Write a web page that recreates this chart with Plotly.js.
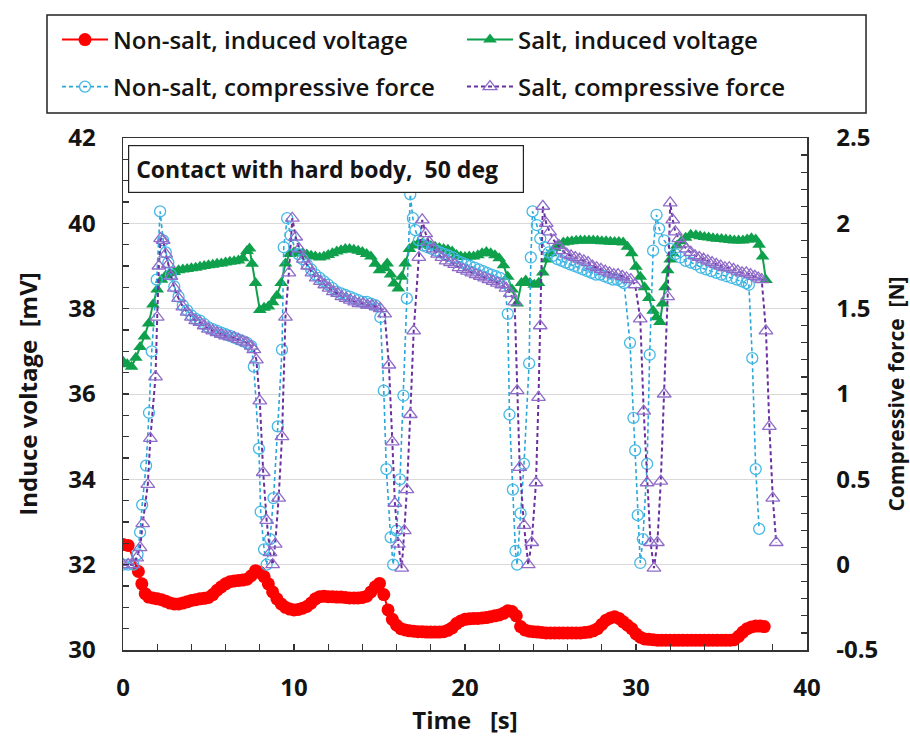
<!DOCTYPE html>
<html><head><meta charset="utf-8">
<script src="https://cdn.plot.ly/plotly-3.0.1.min.js"></script>
<style>html,body{margin:0;padding:0;background:#fff}#chart{width:910px;height:740px}</style>
</head><body><div id="chart"></div>
<script>
// ---- data ----
const redT = [0,0.3,0.9,1.1,1.3,1.5,1.75,2,
  2.25,2.5,2.75,3,3.25,3.5,3.75,4,
  4.25,4.5,4.75,5,5.25,5.5,5.75,6,
  6.25,6.5,6.75,7,7.25,7.5,7.75,8,
  8.25,8.5,8.75,9,9.25,9.5,9.75,10,
  10.25,10.5,10.75,11,11.25,11.5,11.75,12,
  12.25,12.5,12.75,13,13.25,13.5,13.75,14,
  14.25,14.5,14.75,15,15.25,15.5,15.75,16,
  16.25,16.5,16.75,17,17.25,17.5,17.75,18,
  18.25,18.5,18.75,19,19.25,19.5,19.75,20,
  20.25,20.5,20.75,21,21.25,21.5,21.75,22,
  22.25,22.5,22.75,23,23.25,23.5,23.75,24,
  24.25,24.5,24.75,25,25.25,25.5,25.75,26,
  26.25,26.5,26.75,27,27.25,27.5,27.75,28,
  28.25,28.5,28.75,29,29.25,29.5,29.75,30,
  30.25,30.5,30.75,31,31.25,31.5,31.75,32,
  32.25,32.5,32.75,33,33.25,33.5,33.75,34,
  34.25,34.5,34.75,35,35.25,35.5,35.75,36,
  36.25,36.5,36.75,37,37.25,37.5];
const redV = [32.47,32.45,31.84,31.55,31.32,31.24,31.22,31.2,
  31.18,31.14,31.1,31.08,31.08,31.1,31.13,31.16,
  31.18,31.2,31.21,31.23,31.3,31.4,31.48,31.55,
  31.6,31.62,31.63,31.64,31.66,31.74,31.86,31.82,
  31.72,31.55,31.36,31.2,31.08,31.0,30.96,30.94,
  30.95,30.98,31.02,31.1,31.2,31.25,31.26,31.25,
  31.25,31.24,31.24,31.23,31.22,31.22,31.22,31.23,
  31.26,31.36,31.48,31.56,31.3,30.94,30.72,30.58,
  30.5,30.47,30.45,30.44,30.43,30.43,30.42,30.42,
  30.42,30.42,30.43,30.46,30.52,30.62,30.68,30.72,
  30.73,30.74,30.74,30.75,30.76,30.78,30.8,30.82,
  30.86,30.92,30.9,30.8,30.55,30.47,30.44,30.43,
  30.42,30.41,30.4,30.4,30.4,30.4,30.4,30.4,
  30.4,30.4,30.4,30.41,30.42,30.45,30.5,30.6,
  30.7,30.75,30.78,30.74,30.66,30.58,30.5,30.38,
  30.3,30.26,30.25,30.24,30.23,30.23,30.23,30.23,
  30.23,30.23,30.23,30.23,30.23,30.23,30.23,30.23,
  30.23,30.23,30.23,30.23,30.23,30.23,30.24,30.32,
  30.42,30.5,30.54,30.56,30.56,30.55];

const greenT = [0,0.25,0.5,0.75,1,1.25,1.5,1.75,
  2,2.25,2.5,2.75,3,3.25,3.5,3.75,
  4,4.25,4.5,4.75,5,5.25,5.5,5.75,
  6,6.25,6.5,6.75,7,7.25,7.4,7.55,
  7.75,8,8.25,8.5,8.75,9,9.25,9.5,
  9.75,10,10.25,10.5,10.75,11,11.25,11.5,
  11.75,12,12.25,12.5,12.75,13,13.25,13.5,
  13.75,14,14.25,14.5,14.75,15,15.25,15.45,
  15.65,15.85,16.1,16.3,16.5,16.75,17,17.25,
  17.5,17.75,18,18.25,18.5,18.75,19,19.25,
  19.5,19.75,20,20.25,20.5,20.75,21,21.25,
  21.5,21.75,22,22.25,22.5,22.75,23.05,23.3,
  23.55,23.8,24.05,24.3,24.55,24.8,25,25.25,
  25.5,25.75,26,26.25,26.5,26.75,27,27.25,
  27.5,27.75,28,28.25,28.5,28.75,29,29.25,
  29.5,29.75,30,30.25,30.5,30.75,31,31.2,
  31.4,31.55,31.7,31.85,32,32.15,32.4,32.65,
  32.9,33.2,33.5,33.75,34,34.25,34.5,34.75,
  35,35.25,35.5,35.75,36,36.25,36.5,36.75,
  37,37.2,37.4,37.6];
const greenV = [36.76,36.7,36.64,36.85,37.1,37.35,37.65,38.1,
  38.45,38.68,38.78,38.83,38.86,38.9,38.92,38.93,
  38.95,38.96,38.98,39.0,39.02,39.03,39.05,39.06,
  39.08,39.1,39.11,39.13,39.18,39.35,39.41,39.05,
  38.6,37.97,38.02,38.05,38.15,38.3,38.6,39.06,
  39.28,39.32,39.3,39.3,39.27,39.24,39.22,39.2,
  39.22,39.26,39.3,39.34,39.37,39.4,39.4,39.38,
  39.36,39.33,39.28,39.22,39.05,38.9,38.95,39.06,
  38.8,38.59,38.47,38.75,39.06,39.4,39.48,39.52,
  39.53,39.5,39.47,39.45,39.42,39.4,39.38,39.34,
  39.26,39.22,39.21,39.22,39.22,39.25,39.3,39.33,
  39.3,39.25,39.18,39.02,38.75,38.45,38.12,38.6,
  38.66,38.6,38.56,38.6,38.85,39.15,39.3,39.42,
  39.5,39.55,39.57,39.58,39.59,39.6,39.6,39.6,
  39.6,39.59,39.58,39.58,39.57,39.56,39.56,39.55,
  39.45,39.3,38.98,38.75,38.5,38.25,37.95,37.8,
  37.69,38.12,38.5,38.9,39.15,39.3,39.48,39.58,
  39.66,39.73,39.72,39.7,39.68,39.67,39.65,39.64,
  39.63,39.62,39.61,39.6,39.6,39.6,39.62,39.65,
  39.62,39.5,39.22,38.67];

const cyanT = [0,0.3,0.6,0.85,1,1.12,1.35,1.52,
  1.68,1.97,2.17,2.35,2.5,2.65,2.8,3,
  3.25,3.5,3.75,4,4.25,4.5,4.75,5,
  5.25,5.5,5.75,6,6.25,6.5,6.75,7,
  7.25,7.5,7.65,7.95,8.05,8.25,8.4,8.6,
  8.8,9.05,9.3,9.4,9.6,9.8,10,10.25,
  10.5,10.75,11,11.25,11.5,11.75,12,12.25,
  12.5,12.75,13,13.25,13.5,13.75,14,14.25,
  14.5,14.75,15.05,15.25,15.4,15.65,15.8,16,
  16.2,16.4,16.6,16.8,16.95,17.1,17.3,17.55,
  17.8,18.05,18.3,18.55,18.8,19.05,19.3,19.55,
  19.8,20.05,20.3,20.55,20.8,21.05,21.3,21.55,
  21.8,22.05,22.3,22.5,22.6,22.8,22.95,23.05,
  23.25,23.45,23.75,23.85,23.95,24.2,24.4,24.65,
  24.9,25.15,25.4,25.65,25.9,26.15,26.4,26.65,
  26.9,27.15,27.4,27.65,27.9,28.15,28.4,28.65,
  28.9,29.15,29.3,29.65,29.85,29.95,30.1,30.25,
  30.4,30.65,30.8,31,31.2,31.35,31.65,32,
  32.3,32.6,32.9,33.2,33.5,33.8,34.1,34.4,
  34.7,35,35.3,35.6,35.9,36.2,36.45,36.6,
  36.8,37,37.2];
const cyanF = [0,0,0,0.06,0.19,0.35,0.58,0.89,
  1.25,1.67,2.07,1.9,1.83,1.77,1.7,1.63,
  1.57,1.52,1.49,1.46,1.44,1.43,1.41,1.39,
  1.38,1.37,1.36,1.35,1.34,1.33,1.32,1.31,
  1.3,1.28,1.16,0.68,0.31,0.09,0,0.15,
  0.39,0.81,1.26,1.86,2.03,1.93,1.87,1.82,
  1.79,1.76,1.73,1.7,1.68,1.66,1.64,1.62,
  1.6,1.59,1.58,1.57,1.56,1.55,1.54,1.54,
  1.53,1.52,1.45,1.02,0.56,0.16,0,0.2,
  0.5,0.99,1.56,2.17,2.03,1.96,1.9,1.87,
  1.86,1.85,1.84,1.83,1.82,1.81,1.8,1.78,
  1.77,1.76,1.75,1.74,1.73,1.72,1.71,1.7,
  1.69,1.68,1.65,1.47,0.88,0.44,0.08,0,
  0.3,0.59,1.18,1.8,2.07,1.99,1.91,1.86,
  1.83,1.81,1.79,1.78,1.77,1.76,1.75,1.74,
  1.73,1.72,1.71,1.7,1.7,1.69,1.68,1.67,
  1.67,1.66,1.65,1.3,0.86,0.67,0.29,0.01,
  0.15,0.59,1.23,1.84,2.05,1.97,1.9,1.85,
  1.82,1.8,1.78,1.77,1.76,1.74,1.73,1.72,
  1.71,1.7,1.69,1.68,1.67,1.66,1.65,1.64,
  1.21,0.56,0.21];

const purpleT = [0,0.3,0.6,0.8,1,1.15,1.45,1.6,
  1.9,2,2.1,2.2,2.35,2.5,2.65,2.8,
  3,3.25,3.5,3.75,4,4.25,4.5,4.75,
  5,5.25,5.5,5.75,6,6.25,6.5,6.75,
  7,7.25,7.5,7.65,7.8,8,8.2,8.4,
  8.6,8.75,8.9,9.1,9.3,9.5,9.7,9.9,
  10.1,10.3,10.55,10.8,11.05,11.3,11.55,11.8,
  12.05,12.3,12.55,12.8,13.05,13.3,13.55,13.8,
  14.05,14.3,14.55,14.8,15.05,15.3,15.55,15.75,
  15.9,16.1,16.3,16.45,16.6,16.8,17,17.3,
  17.5,17.7,17.9,18.15,18.4,18.65,18.9,19.15,
  19.4,19.65,19.9,20.15,20.4,20.65,20.9,21.15,
  21.4,21.65,21.9,22.15,22.4,22.65,22.9,23.05,
  23.2,23.45,23.7,23.9,24.15,24.3,24.4,24.55,
  24.75,24.95,25.2,25.45,25.7,25.95,26.2,26.45,
  26.7,26.95,27.2,27.45,27.7,27.95,28.2,28.45,
  28.7,28.95,29.2,29.45,29.7,29.95,30.25,30.45,
  30.65,30.85,31.05,31.25,31.45,31.65,31.85,32,
  32.15,32.3,32.5,32.7,32.95,33.2,33.45,33.7,
  33.95,34.2,34.45,34.7,34.95,35.2,35.45,35.7,
  35.95,36.2,36.45,36.7,36.95,37.15,37.35,37.6,
  37.8,38,38.2];
const purpleF = [0,0,0,0.04,0.1,0.24,0.47,0.74,
  1.1,1.45,1.75,1.91,1.9,1.82,1.76,1.69,
  1.62,1.56,1.51,1.48,1.45,1.43,1.42,1.4,
  1.38,1.37,1.36,1.35,1.34,1.335,1.33,1.32,
  1.31,1.3,1.28,1.26,1.2,0.96,0.54,0.26,
  0.07,0,0.12,0.39,0.75,1.45,1.71,2.03,
  1.92,1.85,1.79,1.75,1.71,1.68,1.66,1.64,
  1.62,1.6,1.59,1.57,1.56,1.55,1.54,1.53,
  1.53,1.52,1.52,1.51,1.5,1.47,1.17,0.72,
  0.36,0.12,-0.02,0.2,0.44,0.88,1.37,1.8,
  2.02,1.94,1.89,1.85,1.82,1.8,1.78,1.77,
  1.76,1.74,1.73,1.72,1.71,1.7,1.69,1.68,
  1.67,1.66,1.65,1.64,1.62,1.59,1.54,1.02,
  0.57,0.23,0,0.13,0.48,0.98,1.4,2.1,
  2.0,1.95,1.9,1.87,1.84,1.82,1.81,1.8,
  1.79,1.78,1.77,1.75,1.74,1.73,1.72,1.71,
  1.7,1.7,1.69,1.68,1.67,1.64,1.44,0.9,
  0.48,0.13,-0.02,0.13,0.49,1.0,1.57,2.12,
  2.02,1.95,1.91,1.88,1.85,1.83,1.81,1.8,
  1.79,1.78,1.77,1.76,1.75,1.74,1.74,1.73,
  1.72,1.71,1.71,1.7,1.69,1.68,1.67,1.37,
  0.81,0.39,0.13];

const seriesNames = ['Non-salt, induced voltage','Salt, induced voltage',
  'Non-salt, compressive force','Salt, compressive force'];
const xTickVals = [0,10,20,30,40];
const yTickVals = [30,32,34,36,38,40,42];
const y2TickVals = [-0.5,0,0.5,1,1.5,2,2.5];
const y2TickText = ['-0.5','0','0.5','1','1.5','2','2.5'];
const chartTitle = 'Contact with hard body,\u00a0\u00a050 deg';

// ---- styling ----
const FAM = '"Open Sans", "Noto Sans", sans-serif';
const TXT = '#141414';
const lblFont = {family: FAM, size: 24, color: TXT, weight: 'bold'};

const traces = [
  {x: redT, y: redV, name: seriesNames[0], mode: 'lines+markers', yaxis: 'y', legend: 'legend',
   line: {color: '#ff0000', width: 2}, marker: {symbol: 'circle', size: 13, color: '#ff0000'}},
  {x: greenT, y: greenV, name: seriesNames[1], mode: 'lines+markers', yaxis: 'y', legend: 'legend2',
   line: {color: '#0fa04c', width: 2}, marker: {symbol: 'triangle-up', size: 12, color: '#0fa04c'}},
  {x: cyanT, y: cyanF, name: seriesNames[2], mode: 'lines+markers', yaxis: 'y2', legend: 'legend3',
   line: {color: '#2aa6d8', width: 1.6, dash: '4px,3px'},
   marker: {symbol: 'circle-open', size: 11, color: '#45b9e6', line: {width: 1.3}}},
  {x: purpleT, y: purpleF, name: seriesNames[3], mode: 'lines+markers', yaxis: 'y2', legend: 'legend4',
   line: {color: '#6a2fa0', width: 2, dash: '4px,3px'},
   marker: {symbol: 'triangle-up-open', size: 12, color: '#8f6cc9', line: {width: 1.3}}}
];

const axBase = {
  showline: true, linecolor: '#333', linewidth: 1.5,
  ticks: 'inside', ticklen: 6, tickcolor: '#333', tickwidth: 1.2,
  tickfont: lblFont, zeroline: false
};

function leg(xp, yp) {
  return {
    orientation: 'h', xref: 'paper', yref: 'paper', xanchor: 'left', yanchor: 'middle',
    x: xp, y: yp, itemwidth: 46,
    bgcolor: 'rgba(0,0,0,0)', borderwidth: 0,
    font: {family: FAM, size: 24, color: TXT, weight: 600}
  };
}

const layout = {
  width: 910, height: 740,
  margin: {l: 123, r: 103, t: 138, b: 90},
  paper_bgcolor: '#fff', plot_bgcolor: '#fff',
  font: {family: FAM, color: TXT},
  showlegend: true,
  legend: leg(-0.0965, 1.1914),
  legend2: leg(0.4956, 1.1914),
  legend3: leg(-0.0965, 1.0996),
  legend4: leg(0.4956, 1.0996),
  xaxis: Object.assign({}, axBase, {
    range: [0, 40], tickvals: xTickVals, mirror: true,
    minor: {dtick: 2, ticks: 'inside', ticklen: 6, tickcolor: '#333'},
    showgrid: false, ticklabelstandoff: 16,
    title: {text: 'Time\u00a0\u00a0\u00a0[s]', font: lblFont, standoff: 8}
  }),
  yaxis: Object.assign({}, axBase, {
    range: [30, 42], tickvals: yTickVals,
    minor: {dtick: 0.5, ticks: 'inside', ticklen: 6, tickcolor: '#333'},
    showgrid: true, gridcolor: '#d9d9d9', gridwidth: 1, ticklabelstandoff: 21,
    title: {text: 'Induce voltage\u00a0\u00a0[mV]', font: lblFont, standoff: 24}
  }),
  yaxis2: Object.assign({}, axBase, {
    range: [-0.5, 2.5], tickvals: y2TickVals, ticktext: y2TickText,
    overlaying: 'y', side: 'right',
    minor: {dtick: 0.1, ticks: 'inside', ticklen: 6, tickcolor: '#333'},
    showgrid: false, ticklabelstandoff: 23,
    title: {text: 'Compressive force\u00a0\u00a0[N]', font: {family: FAM, size: 21, color: TXT, weight: 'bold'}, standoff: 18}
  }),
  shapes: [
    {type: 'rect', xref: 'paper', yref: 'paper',
     x0: -0.1111, x1: 1.0863, y0: 1.0488, y1: 1.2402,
     line: {color: '#222', width: 1.5}, fillcolor: 'rgba(0,0,0,0)'}
  ],
  annotations: [
    {xref: 'paper', yref: 'paper', x: 0.007, y: 0.987, xanchor: 'left', yanchor: 'top',
     text: chartTitle, showarrow: false, align: 'left', width: 380,
     font: {family: FAM, size: 23, color: TXT, weight: 'bold'},
     bordercolor: '#222', borderwidth: 1.2, borderpad: 7, bgcolor: '#fff'}
  ]
};

Plotly.newPlot('chart', traces, layout, {staticPlot: true, displayModeBar: false});
</script></body></html>
